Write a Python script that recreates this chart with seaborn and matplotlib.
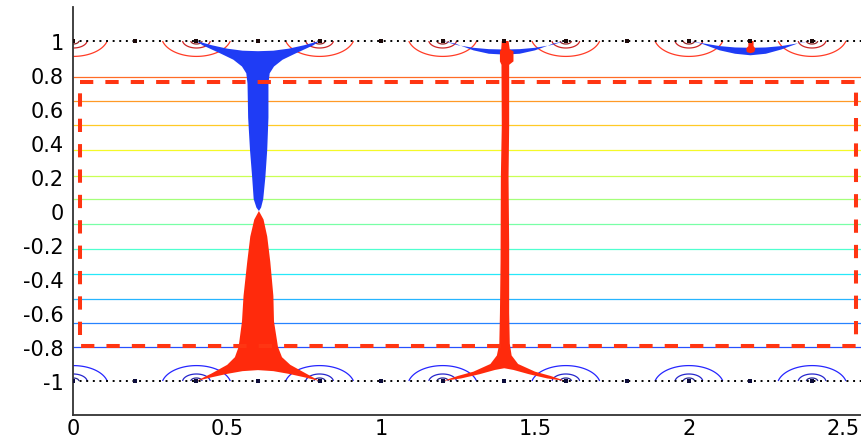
import numpy as np
import matplotlib
matplotlib.use("Agg")
import matplotlib.pyplot as plt
import seaborn as sns
import pandas as pd

# ---------------- data ----------------
x_ticks = [0, 0.5, 1, 1.5, 2, 2.5]
x_tick_labels = ["0", "0.5", "1", "1.5", "2", "2.5"]
y_ticks = [-1, -0.8, -0.6, -0.4, -0.2, 0, 0.2, 0.4, 0.6, 0.8, 1]
y_tick_labels = ["-1", "-0.8", "-0.6", "-0.4", "-0.2", "0", "0.2", "0.4", "0.6", "0.8", "1"]

# electrode markers on the two plates (y = +1 and y = -1)
electrode_x = [0.0, 0.2, 0.4, 0.6, 0.8, 1.0, 1.2, 1.4, 1.6, 1.8, 2.0, 2.2, 2.4]
plate_y = [1.0, -1.0]

# charged electrodes (concentric contours around them)
charge_x = [0.0, 0.4, 0.8, 1.2, 1.6, 2.0, 2.4]
charge_strength = 0.163
charge_radius = 0.165

profile_y = [-1.0, -0.8, 0.8, 1.0]
profile_v = [-0.87, -0.8, 0.8, 0.87]
contour_levels = [-1.228, -1.082, -0.936, -0.80, -0.657, -0.515, -0.368, -0.224,
                  -0.079, 0.069, 0.208, 0.356, 0.503, 0.65, 0.79, 0.936, 1.082, 1.228]

# filled streamer shapes (outline vertices, data units)
blue_a_x = [0.40, 0.45, 0.50, 0.55, 0.60, 0.65, 0.70, 0.75, 0.80,
            0.78, 0.72, 0.68, 0.652, 0.638, 0.634, 0.634, 0.630, 0.624, 0.617, 0.610, 0.603,
            0.595, 0.586, 0.581, 0.574, 0.568, 0.566, 0.562, 0.548, 0.52, 0.48, 0.42]
blue_a_y = [1.00, 0.975, 0.955, 0.943, 0.940, 0.943, 0.955, 0.975, 1.00,
            0.975, 0.925, 0.89, 0.85, 0.81, 0.75, 0.55, 0.36, 0.20, 0.07, 0.02, 0.00,
            0.02, 0.07, 0.20, 0.36, 0.55, 0.75, 0.81, 0.85, 0.89, 0.925, 0.975]

red_a_x = [0.40, 0.45, 0.50, 0.525, 0.537, 0.548, 0.553, 0.565, 0.575, 0.588, 0.603,
           0.618, 0.630, 0.640, 0.650, 0.652, 0.665, 0.678, 0.705, 0.755, 0.80,
           0.75, 0.70, 0.65, 0.60, 0.55, 0.50, 0.45]
red_a_y = [-1.00, -0.955, -0.905, -0.86, -0.80, -0.65, -0.50, -0.30, -0.15, -0.05, 0.00,
           -0.05, -0.15, -0.30, -0.50, -0.65, -0.80, -0.86, -0.905, -0.955, -1.00,
           -0.978, -0.958, -0.942, -0.936, -0.942, -0.958, -0.978]

red_b_x = [1.392, 1.390, 1.386, 1.386, 1.391, 1.392, 1.389, 1.388, 1.386, 1.384, 1.376,
           1.355, 1.30, 1.25, 1.20,
           1.26, 1.32, 1.37, 1.40, 1.43, 1.48, 1.54, 1.60,
           1.55, 1.50, 1.445, 1.424, 1.418, 1.416, 1.416, 1.414, 1.416, 1.416, 1.43, 1.43,
           1.418, 1.414]
red_b_y = [1.00, 0.95, 0.94, 0.88, 0.86, 0.50, 0.20, -0.30, -0.60, -0.78, -0.85,
           -0.90, -0.945, -0.97, -1.00,
           -0.985, -0.96, -0.935, -0.925, -0.935, -0.96, -0.985, -1.00,
           -0.97, -0.945, -0.90, -0.85, -0.78, -0.60, -0.20, 0.20, 0.50, 0.86, 0.88, 0.94,
           0.95, 1.00]

blue_b_x = [1.20, 1.25, 1.30, 1.35, 1.40, 1.45, 1.50, 1.55, 1.60,
            1.56, 1.50, 1.45, 1.40, 1.35, 1.30, 1.24]
blue_b_y = [1.00, 0.975, 0.96, 0.952, 0.950, 0.952, 0.96, 0.975, 1.00,
            0.985, 0.945, 0.925, 0.920, 0.925, 0.945, 0.985]

blue_c_x = [2.00, 2.05, 2.10, 2.15, 2.20, 2.25, 2.30, 2.35, 2.40,
            2.36, 2.30, 2.25, 2.20, 2.15, 2.10, 2.04]
blue_c_y = [1.00, 0.985, 0.970, 0.962, 0.960, 0.962, 0.970, 0.985, 1.00,
            0.99, 0.95, 0.925, 0.916, 0.925, 0.945, 0.985]

red_c_x = [2.193, 2.193, 2.186, 2.188, 2.200, 2.212, 2.216, 2.210, 2.210]
red_c_y = [1.00, 0.970, 0.955, 0.935, 0.928, 0.935, 0.955, 0.970, 1.00]

rect_x = [0.022, 2.542, 2.542, 0.022, 0.022]
rect_y = [0.761, 0.761, -0.792, -0.792, 0.761]

# ---------------- figure ----------------
sns.set_style("white")
plt.rcParams["font.family"] = ["DejaVu Sans"]

W, H = 861, 439
fig = plt.figure(figsize=(W / 100, H / 100), dpi=100)
x0_px, bottom_px, ax_h_px = 73.3, 23.0, 408.0
ax = fig.add_axes([x0_px / W, bottom_px / H, (W - x0_px) / W, ax_h_px / H])
ax.set_xlim(0, 2.559)
ax.set_ylim(-1.2, 1.2)

# potential field for contours
gx = np.linspace(0, 2.6, 781)
gy = np.linspace(-1, 1, 601)
X, Y = np.meshgrid(gx, gy)
V = np.interp(Y, profile_y, profile_v)
for cx in charge_x:
    for cy, sgn in ((1.0, 1.0), (-1.0, -1.0)):
        r = np.maximum(np.hypot(X - cx, Y - cy), 1e-4)
        V = V + sgn * charge_strength * np.clip(np.log(charge_radius / r), 0, None)

ax.contour(X, Y, V, levels=contour_levels, cmap="jet",
           vmin=contour_levels[0], vmax=contour_levels[-1],
           linewidths=0.9, alpha=0.85, zorder=1)

blue = "#1f3cf5"
red = "#ff2a0c"
ax.fill(blue_a_x, blue_a_y, color=blue, lw=0, zorder=3)
ax.fill(red_a_x, red_a_y, color=red, lw=0, zorder=3)
ax.fill(blue_b_x, blue_b_y, color=blue, lw=0, zorder=3)
ax.fill(red_b_x, red_b_y, color=red, lw=0, zorder=4)
ax.fill(blue_c_x, blue_c_y, color=blue, lw=0, zorder=3)
ax.fill(red_c_x, red_c_y, color=red, lw=0, zorder=4)

# dotted plates
for py in plate_y:
    ax.plot([0, 2.6], [py, py], color="black", lw=1.4,
            linestyle=(0, (1, 2.4)), zorder=5)

# electrode markers
df_top = pd.DataFrame({"x": electrode_x, "y": [plate_y[0]] * len(electrode_x)})
df_bot = pd.DataFrame({"x": electrode_x, "y": [plate_y[1]] * len(electrode_x)})
sns.scatterplot(data=df_top, x="x", y="y", marker="s", s=10, color="#1a0808",
                linewidth=0, ax=ax, zorder=6)
sns.scatterplot(data=df_bot, x="x", y="y", marker="s", s=10, color="#0c0c3a",
                linewidth=0, ax=ax, zorder=6)

# dashed rectangle
ax.plot(rect_x, rect_y, color="#ff3512", lw=2.9, linestyle=(0, (3.3, 3.0)),
        solid_capstyle="butt", dash_capstyle="butt", zorder=7)

# axes styling
for s in ("top", "right"):
    ax.spines[s].set_visible(False)
for s in ("left", "bottom"):
    ax.spines[s].set_color("#333333")
    ax.spines[s].set_linewidth(1.3)

ax.set_xticks(x_ticks)
ax.set_xticklabels(x_tick_labels)
ax.set_yticks(y_ticks)
ax.set_yticklabels(y_tick_labels)
ax.tick_params(axis="both", direction="in", length=5, width=1, color="#333333",
               labelsize=15, labelcolor="black")
ax.tick_params(axis="y", pad=7)
ax.tick_params(axis="x", pad=2)
ax.set_xlabel("")
ax.set_ylabel("")

fig.savefig("out.png", dpi=100)
